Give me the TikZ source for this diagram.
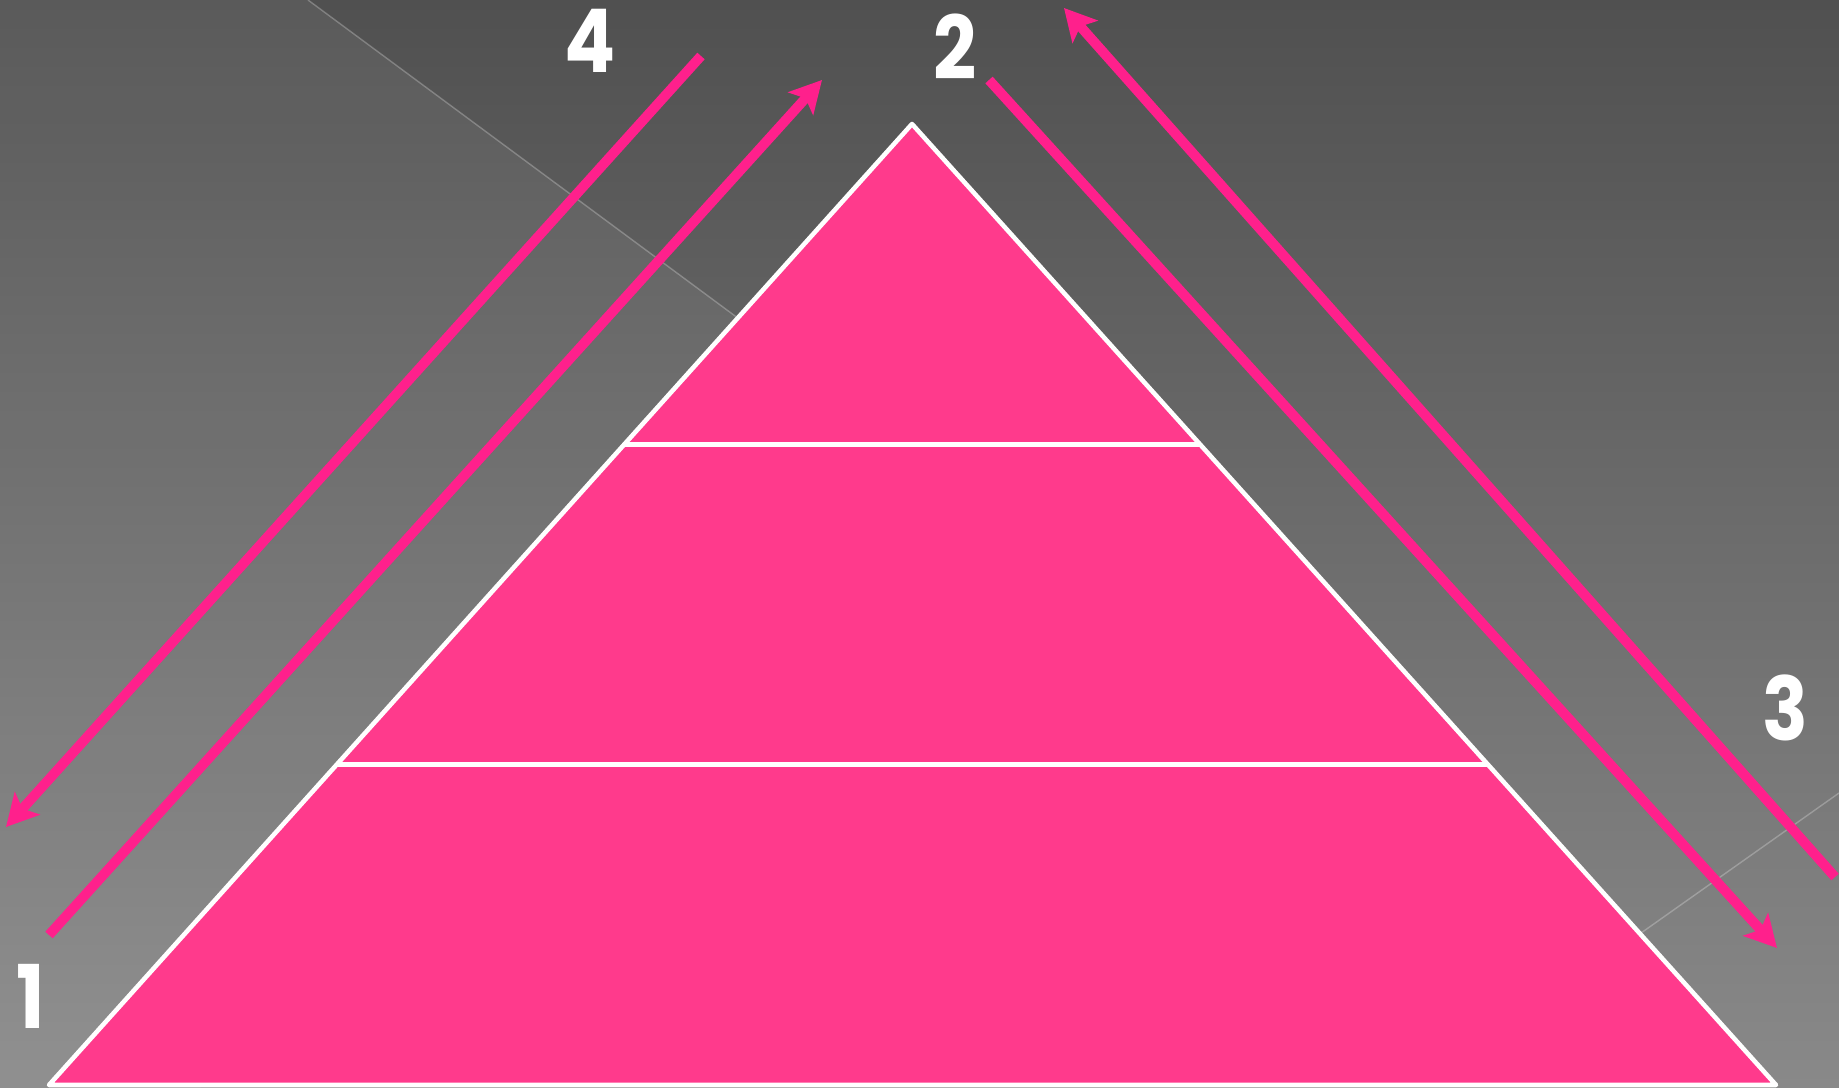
\documentclass[tikz,border=0pt]{standalone}
\usepackage{fontspec}
\newfontfamily\numfont{Poppins}[FakeStretch=0.86]
\usetikzlibrary{arrows.meta,calc}
\definecolor{bgtop}{RGB}{80,80,80}
\definecolor{bgbottom}{RGB}{137,137,137}
\definecolor{pyrpink}{RGB}{255,58,140}
\definecolor{arrpink}{RGB}{255,32,140}
\tikzset{
  flow/.style={->,arrpink,line width=2.8pt},
  numlabel/.style={text=white,inner sep=0pt,font=\numfont\bfseries\fontsize{25}{25}\selectfont},
  faint/.style={white,opacity=0.25,line width=0.4pt}
}

\begin{document}
\begin{tikzpicture}[x=0.01cm,y=-0.01cm,>={Stealth[length=9pt,width=9.5pt,inset=2pt]}]
  % background
  \fill[top color=bgtop,bottom color=bgbottom] (0,0) rectangle (1839,1088);
  \useasboundingbox (0,0) rectangle (1839,1088);
  \fill[white,opacity=0.06] (0,0) -- (308,0) -- (1000,512) -- (200,1088) -- (0,1088) -- cycle;
  \draw[faint] (308,0) -- (1000,512);
  \draw[faint] (1839,793) -- (1600,962);

  % pyramid
  \coordinate (apex) at (912,124);
  \coordinate (bl) at (49,1085);
  \coordinate (br) at (1776,1085);
  \fill[pyrpink] (apex) -- (bl) -- (br) -- cycle;
  \draw[white,line width=1.3pt,line join=round] (apex) -- (bl) -- (br) -- cycle;
  \draw[white,line width=1.4pt] ($(apex)!1/3!(bl)$) -- ($(apex)!1/3!(br)$);
  \draw[white,line width=1.4pt] ($(apex)!2/3!(bl)$) -- ($(apex)!2/3!(br)$);

  % arrows
  \coordinate (outLtail) at (701,56);
  \coordinate (outLhead) at (6,827);
  \coordinate (inLtail) at (49,935);
  \coordinate (inLhead) at (822,80);
  \coordinate (inRtail) at (989,80);
  \coordinate (inRhead) at (1777,948);
  \coordinate (outRtail) at (1835,877);
  \coordinate (outRhead) at (1064,8);
  \draw[flow] (outLtail) -- (outLhead);
  \draw[flow] (inLtail) -- (inLhead);
  \draw[flow] (inRtail) -- (inRhead);
  \draw[flow] (outRtail) -- (outRhead);

  % numbers
  \node[numlabel] (lab1) at (31,996) {1};
  \node[numlabel] (lab2) at (955,47) {2};
  \node[numlabel] (lab3) at (1785,708) {3};
  \node[numlabel] (lab4) at (590,41) {4};
\end{tikzpicture}
\end{document}
